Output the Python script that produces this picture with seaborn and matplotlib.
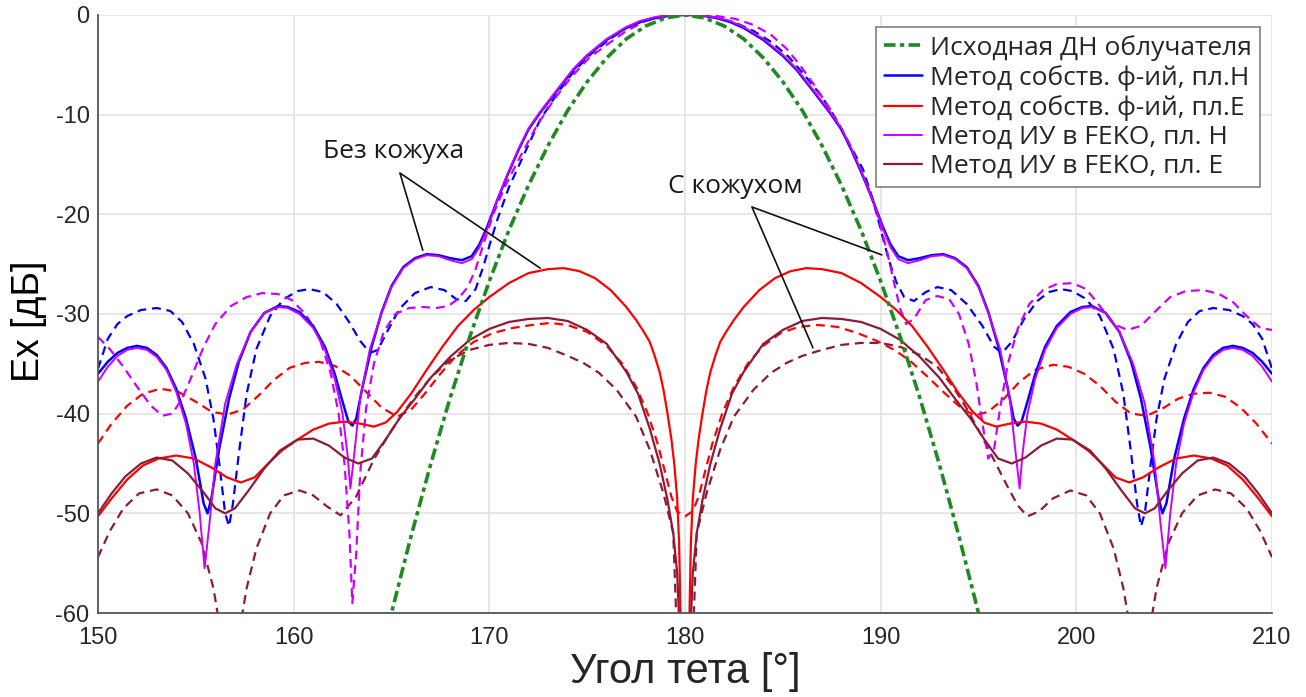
import matplotlib
matplotlib.use("Agg")
import matplotlib.pyplot as plt
import seaborn as sns

# ---- data ----
# feed pattern (dash-dot green)
feed_x = [164, 165, 166, 167, 168, 169, 170, 171, 172, 173, 174, 175, 176, 177, 178, 179, 180,
          181, 182, 183, 184, 185, 186, 187, 188, 189, 190, 191, 192, 193, 194, 195, 196]
feed_y = [-69.0, -60.0, -52.3, -45.1, -38.4, -32.3, -26.7, -21.6, -17.1, -13.1, -9.6, -6.7, -4.3, -2.4, -1.1, -0.3, 0.0,
          -0.3, -1.1, -2.4, -4.3, -6.7, -9.6, -13.1, -17.1, -21.6, -26.7, -32.3, -38.4, -45.1, -52.3, -60.0, -69.0]

# eigenfunction method, H plane (solid blue)
eig_h_x = [150, 150.5, 151, 151.5, 152, 152.5, 153, 153.5, 154, 154.5, 155, 155.4, 155.6, 155.8, 156.2, 156.7,
           157.2, 157.8, 158.5, 159.2, 159.7, 160.3, 161, 161.6, 162.1, 162.5, 162.8, 163, 163.2, 163.5, 164,
           164.5, 165, 165.6, 166.2, 166.8, 167.4, 168, 168.6, 169.1, 169.5, 169.9, 170.4, 170.9, 171.5, 172,
           172.6, 173.5, 174.3, 175, 176, 177, 177.7, 178.5, 179.4, 180.6, 181.5, 182.3, 183, 184, 185, 185.7,
           186.5, 187.4, 188, 188.5, 189.1, 189.6, 190.1, 190.5, 190.9, 191.4, 192, 192.6, 193.2, 193.8, 194.4,
           195, 195.5, 196, 196.5, 196.8, 197, 197.2, 197.5, 197.9, 198.4, 199, 199.7, 200.3, 200.8, 201.5,
           202.2, 202.8, 203.3, 203.8, 204.2, 204.4, 204.6, 205, 205.5, 206, 206.5, 207, 207.5, 208, 208.5,
           209, 209.5, 210]
eig_h_y = [-36.0, -34.8, -33.9, -33.4, -33.2, -33.4, -34.1, -35.4, -37.5, -40.5, -44.5, -49.0, -50.0, -48.5,
           -43.5, -38.5, -34.8, -31.8, -29.9, -29.2, -29.3, -29.8, -31.2, -33.3, -36.0, -38.8, -40.8, -41.2,
           -40.5, -37.5, -33.2, -29.8, -27.2, -25.3, -24.4, -24.0, -24.1, -24.4, -24.6, -24.2, -23.0, -21.2,
           -18.6, -16.2, -13.5, -11.5, -9.8, -7.5, -5.5, -4.1, -2.5, -1.3, -0.7, -0.25, 0.0, 0.0, -0.25, -0.7,
           -1.3, -2.5, -4.1, -5.5, -7.5, -9.8, -11.5, -13.5, -16.2, -18.6, -21.2, -23.0, -24.2, -24.6, -24.4,
           -24.1, -24.0, -24.4, -25.3, -27.2, -29.8, -33.2, -37.5, -40.5, -41.2, -40.8, -38.8, -36.0, -33.3,
           -31.2, -29.8, -29.3, -29.2, -29.9, -31.8, -34.8, -38.5, -43.5, -48.5, -50.0, -49.0, -44.5, -40.5,
           -37.5, -35.4, -34.1, -33.4, -33.2, -33.4, -33.9, -34.8, -36.0]

# eigenfunction method, E plane (solid red)
eig_e_x = [150, 150.7, 151.5, 152.3, 153.1, 154, 154.9, 155.8, 156.6, 157.3, 158, 158.7, 159.4, 160.2, 161,
           161.8, 162.6, 163.4, 164.1, 164.7, 165.3, 166, 166.8, 167.6, 168.4, 169.2, 170, 171, 172, 173,
           173.8, 174.6, 175.4, 176.2, 177, 177.5, 177.9, 178.2, 178.45, 178.7, 178.9, 179.1, 179.3, 179.45,
           179.6, 179.7, 179.8,
           180.2, 180.3, 180.4, 180.55, 180.7, 180.9, 181.1, 181.3, 181.55, 181.8, 182.1, 182.5, 183, 183.8,
           184.6, 185.4, 186.2, 187, 188,
           189, 190, 190.8, 191.6, 192.4, 193.2, 194, 194.7, 195.3, 195.9, 196.6, 197.4, 198.2, 199, 199.8,
           200.6, 201.3, 202, 202.7, 203.4, 204.2, 205.1, 206, 206.9, 207.7, 208.5, 209.3, 210]
eig_e_y = [-50.3, -48.5, -46.6, -45.2, -44.5, -44.2, -44.5, -45.4, -46.4, -46.9, -46.4, -45.0, -43.7, -42.6,
           -41.6, -41.0, -40.8, -41.0, -41.3, -40.9, -39.8, -38.0, -35.6, -33.3, -31.2, -29.6, -28.3, -26.9,
           -25.9, -25.5, -25.4, -25.7, -26.4, -27.6, -29.3, -30.6, -31.8, -32.8, -34.2, -35.8, -37.6, -39.9,
           -42.5, -45.0, -48.5, -53.0, -63.0,
           -63.0, -53.0, -48.5, -45.0, -42.5, -39.9, -37.6, -35.8, -34.2, -32.8, -31.8, -30.6, -29.3, -27.6,
           -26.4, -25.7, -25.4, -25.5, -25.9,
           -26.9, -28.3, -29.6, -31.2, -33.3, -35.6, -38.0, -39.8, -40.9, -41.3, -41.0, -40.8, -41.0, -41.6,
           -42.6, -43.7, -45.0, -46.4, -46.9, -46.4, -45.4, -44.5, -44.2, -44.5, -45.2, -46.6, -48.5, -50.3]

# FEKO integral equations, H plane (solid magenta)
feko_h_x = [150, 150.5, 151, 151.5, 152, 152.5, 153, 153.5, 154, 154.5, 154.9, 155.2, 155.45, 155.7, 156,
            156.5, 157.1, 157.8, 158.5, 159.2, 159.7, 160.3, 161, 161.6, 162.1, 162.5, 162.75, 162.9, 163.1,
            163.4, 163.9, 164.5, 165, 165.6, 166.2, 166.8, 167.4, 168, 168.6, 169.1, 169.5, 169.9, 170.4,
            170.9, 171.5, 172, 172.6, 173.5, 174.3, 175, 176, 177, 177.7, 178.5, 179.4, 180.6, 181.5, 182.3,
            183, 184, 185, 185.7, 186.5, 187.4, 188, 188.5, 189.1, 189.6, 190.1, 190.5, 190.9, 191.4, 192,
            192.6, 193.2, 193.8, 194.4, 195, 195.5, 196.1, 196.6, 196.9, 197.1, 197.25, 197.5, 197.9, 198.4,
            199, 199.7, 200.3, 200.8, 201.5, 202.2, 202.9, 203.5, 204, 204.3, 204.55, 204.8, 205.1, 205.5,
            206, 206.5, 207, 207.5, 208, 208.5, 209, 209.5, 210]
feko_h_y = [-36.8, -35.3, -34.2, -33.6, -33.4, -33.6, -34.3, -35.6, -37.8, -41.0, -45.0, -50.0, -55.5, -51.0,
            -45.0, -39.0, -35.0, -31.8, -29.9, -29.3, -29.4, -30.0, -31.4, -33.6, -36.5, -40.0, -44.0, -47.5,
            -44.0, -38.5, -33.5, -29.9, -27.3, -25.4, -24.5, -24.1, -24.2, -24.6, -24.9, -24.5, -23.3, -21.4,
            -18.6, -16.1, -13.4, -11.4, -9.7, -7.4, -5.4, -4.0, -2.4, -1.2, -0.6, -0.2, 0.0, 0.0, -0.2, -0.6,
            -1.2, -2.4, -4.0, -5.4, -7.4, -9.7, -11.4, -13.4, -16.1, -18.6, -21.4, -23.3, -24.5, -24.9, -24.6,
            -24.2, -24.1, -24.5, -25.4, -27.3, -29.9, -33.5, -38.5, -44.0, -47.5, -44.0, -40.0, -36.5, -33.6,
            -31.4, -30.0, -29.4, -29.3, -29.9, -31.8, -35.0, -39.0, -45.0, -51.0, -55.5, -50.0, -45.0, -41.0,
            -37.8, -35.6, -34.3, -33.6, -33.4, -33.6, -34.2, -35.3, -36.8]

# FEKO integral equations, E plane (solid dark red)
feko_e_x = [150, 150.7, 151.4, 152.2, 153, 153.8, 154.6, 155.4, 156, 156.5, 157, 157.7, 158.5, 159.3, 160.2,
            161, 161.8, 162.6, 163.3, 164, 164.7, 165.4, 166.2, 167, 168, 169, 170, 171, 172, 173, 174, 175,
            176, 177, 177.6, 178.2, 178.7, 179.1, 179.4, 179.6, 179.75, 180.25, 180.4, 180.6, 180.9, 181.3,
            181.8, 182.4, 183, 184, 185, 186, 187, 188, 189, 190, 191, 192, 193, 193.8, 194.6, 195.3, 196,
            196.7, 197.4, 198.2, 199, 199.8, 200.7, 201.5, 202.3, 203, 203.5, 204, 204.6, 205.4, 206.2, 207,
            207.8, 208.6, 209.3, 210]
feko_e_y = [-50.0, -48.0, -46.3, -45.0, -44.4, -44.7, -46.0, -47.9, -49.5, -50.0, -49.5, -47.7, -45.5, -43.7,
            -42.6, -42.5, -43.2, -44.4, -45.0, -44.5, -42.6, -40.5, -38.5, -36.4, -34.3, -32.6, -31.5, -30.8,
            -30.5, -30.4, -30.7, -31.6, -33.0, -35.8, -38.0, -41.5, -45.0, -48.6, -52.0, -56.0, -63.0, -63.0,
            -56.0, -52.0, -48.6, -45.0, -41.5, -38.0, -35.8, -33.0, -31.6, -30.7, -30.4, -30.5, -30.8, -31.5,
            -32.6, -34.3, -36.4, -38.5, -40.5, -42.6, -44.5, -45.0, -44.4, -43.2, -42.5, -42.6, -43.7, -45.5,
            -47.7, -49.5, -50.0, -49.5, -47.9, -46.0, -44.7, -44.4, -45.0, -46.3, -48.0, -50.0]

# dashed counterparts
eig_h2_x = [150, 150.5, 151, 151.5, 152.2, 153, 153.7, 154.3, 154.9, 155.5, 155.9, 156.2, 156.5, 156.7, 156.9,
            157.2, 157.6, 158.1, 158.8, 159.5, 160.2, 160.8, 161.5, 162.2, 162.8, 163.4, 163.9, 164.3, 164.8,
            165.4, 166.2, 167, 167.7, 168.3, 168.8, 169.3, 169.7, 170.1, 170.4, 171, 171.7, 172.6, 173.5,
            174.3, 175.2, 176.1, 177, 178, 179.4, 180.6, 181.7, 182.6, 183.5, 184.4, 185.3, 186.1, 187, 187.8,
            188.5, 189.1, 189.6, 190, 190.4, 190.8, 191.2, 191.7, 192.3, 192.9, 193.6, 194.4, 195.2, 195.8,
            196.2, 196.7, 197.3, 198, 198.6, 199.2, 199.8, 200.5, 201.2, 201.9, 202.4, 202.8, 203.1, 203.3,
            203.5, 203.8, 204.1, 204.5, 205.1, 205.7, 206.3, 207, 207.8, 208.5, 209, 209.5, 210]
eig_h2_y = [-35.5, -32.5, -31.0, -30.2, -29.6, -29.4, -29.7, -30.8, -33.0, -36.5, -40.5, -45.0, -50.0, -51.3,
            -49.0, -44.0, -38.0, -33.5, -30.2, -28.5, -27.7, -27.5, -27.8, -29.0, -30.7, -32.7, -33.9, -33.6,
            -31.7, -29.5, -27.9, -27.3, -27.6, -28.5, -28.7, -27.5, -25.2, -22.5, -20.6, -17.3, -14.3, -10.5,
            -7.8, -5.7, -3.9, -2.5, -1.3, -0.5, 0.0, 0.0, -0.3, -0.8, -1.6, -2.7, -4.2, -6.0, -8.2, -10.7,
            -13.3, -15.5, -18.5, -21.5, -24.5, -26.8, -28.3, -28.7, -27.8, -27.3, -27.6, -29.0, -31.2, -33.3,
            -33.9, -32.8, -30.6, -28.7, -27.8, -27.5, -27.7, -28.5, -30.2, -33.5, -38.0, -44.0, -49.0, -51.3,
            -50.0, -45.0, -40.5, -36.5, -33.0, -30.8, -29.7, -29.4, -29.6, -30.2, -31.0, -32.5, -35.5]

feko_h2_x = [150, 150.6, 151.3, 152, 152.7, 153.3, 153.8, 154.3, 154.8, 155.4, 156, 156.8, 157.6, 158.4, 159.2,
             159.9, 160.6, 161.3, 161.9, 162.3, 162.6, 162.85, 163, 163.2, 163.4, 163.7, 164.1, 164.6, 165.2,
             165.9, 166.6, 167.3, 167.9, 168.4, 168.9, 169.3, 169.7, 170.2, 170.8, 171.5, 172.4, 173.3, 174.2,
             175.1, 176, 177, 178, 179.2, 180.5, 181.6, 182.6, 183.5, 184.4, 185.2, 185.9, 186.7, 187.5, 188.2,
             188.8, 189.4, 189.9, 190.3, 190.7, 191, 191.3, 191.7, 192.3, 192.9, 193.5, 194, 194.5, 194.9,
             195.2, 195.5, 195.8, 196.1, 196.5, 197, 197.6, 198.3, 199, 199.8, 200.5, 201.2, 201.9, 202.6,
             203.3, 204, 204.8, 205.6, 206.5, 207.3, 208, 208.7, 209.4, 210]
feko_h2_y = [-32.3, -33.5, -35.3, -37.3, -39.2, -40.2, -40.0, -38.5, -36.2, -33.3, -31.0, -29.2, -28.3, -27.9,
             -28.0, -28.6, -30.0, -32.3, -36.0, -40.0, -45.0, -52.0, -59.0, -54.0, -46.0, -39.5, -35.0, -31.8,
             -30.0, -29.4, -29.3, -29.4, -29.2, -28.5, -27.3, -25.5, -23.0, -20.0, -17.2, -14.5, -11.2, -8.5,
             -6.2, -4.3, -3.0, -1.6, -0.6, -0.1, 0.0, -0.1, -0.4, -1.0, -2.0, -3.4, -5.1, -7.3, -9.7, -12.3,
             -14.8, -17.5, -20.5, -23.5, -27.0, -29.5, -31.0, -30.5, -28.6, -28.2, -28.5, -30.0, -33.0, -37.0,
             -41.0, -44.5, -43.5, -39.5, -35.0, -31.5, -29.0, -27.6, -27.0, -26.9, -27.5, -29.2, -31.0, -31.6,
             -31.2, -29.8, -28.3, -27.7, -27.6, -28.0, -28.8, -30.2, -31.4, -31.6]

eig_e2_x = [150, 150.7, 151.5, 152.3, 153.2, 154.1, 155, 155.8, 156.6, 157.4, 158.2, 159, 159.8, 160.6, 161.3,
            162.1, 162.9, 163.7, 164.5, 165.3, 166, 166.7, 167.5, 168.3, 169.2, 170.2, 171.2, 172.2, 173.1,
            174, 175, 176, 176.8, 177.5, 178.1, 178.6, 179, 179.3, 179.6, 180, 180.4, 180.7, 181, 181.4,
            181.9, 182.5, 183.2, 184, 184.9, 185.8, 186.8, 187.8, 188.8, 189.8, 190.7, 191.5, 192.4, 193.3,
            194.1, 194.8, 195.5, 196.3, 197.1, 197.9, 198.8, 199.6, 200.4, 201.2, 202, 202.8, 203.6, 204.4,
            205.2, 206, 206.8, 207.6, 208.4, 209.2, 210]
eig_e2_y = [-43.0, -41.0, -39.2, -38.0, -37.5, -37.8, -38.8, -39.8, -40.1, -39.6, -38.2, -36.6, -35.4, -34.9,
            -34.8, -35.2, -36.2, -37.8, -39.4, -40.3, -39.6, -38.0, -36.0, -34.2, -32.8, -31.9, -31.4, -31.1,
            -30.9, -31.1, -31.8, -33.2, -35.0, -37.3, -40.0, -43.0, -46.0, -48.3, -49.8, -50.3, -49.8, -48.3,
            -46.0, -43.0, -40.0, -37.3, -35.0, -33.2, -31.9, -31.3, -31.1, -31.3, -31.9, -32.7, -33.6, -34.7,
            -36.3, -38.0, -39.4, -40.2, -39.8, -38.5, -36.8, -35.6, -35.1, -35.3, -36.0, -37.2, -38.8, -40.0,
            -40.2, -39.5, -38.5, -38.0, -37.9, -38.3, -39.4, -41.0, -43.0]

feko_e2_x = [150, 150.6, 151.3, 152.1, 153, 153.8, 154.6, 155.3, 155.9, 156.2, 156.7, 157.3, 157.6, 158.1,
             158.8, 159.5, 160.3, 161, 161.7, 162.4, 163.2, 164.1, 164.8, 165.5, 166.2, 167, 168, 169, 170,
             171, 172, 173, 174, 174.8, 175.6, 176.5, 177.5, 178.2, 178.9, 179.4, 179.6, 180.4, 180.6, 181.1,
             181.8, 182.5, 183.5, 184.4, 185.2, 186, 187, 188, 189, 190, 191, 192, 192.9, 193.7, 194.4, 195.1,
             195.7, 196.4, 197, 197.5, 198.1, 198.8, 199.7, 200.5, 201.2, 201.9, 202.4, 202.7, 203.3, 203.8,
             204.1, 204.7, 205.4, 206.2, 207.1, 207.9, 208.7, 209.4, 210]
feko_e2_y = [-54.4, -51.8, -49.5, -48.0, -47.6, -48.2, -50.0, -53.0, -57.5, -61.0, -68.0, -61.0, -57.5, -53.5,
             -50.0, -48.2, -47.7, -48.2, -49.3, -50.2, -48.3, -44.6, -42.3, -40.2, -38.3, -36.4, -34.6, -33.6,
             -33.1, -32.9, -33.0, -33.4, -34.2, -34.9, -35.9, -37.6, -40.3, -43.6, -48.0, -52.0, -63.0, -63.0,
             -52.0, -48.0, -43.6, -40.3, -37.6, -35.9, -34.9, -34.2, -33.6, -33.1, -32.9, -32.9, -33.3, -34.1,
             -35.3, -37.3, -39.5, -42.0, -44.3, -47.0, -49.2, -50.3, -49.8, -48.5, -47.7, -48.2, -50.0, -53.5,
             -57.5, -61.0, -68.0, -61.0, -57.5, -53.0, -50.0, -48.2, -47.6, -48.0, -49.5, -51.8, -54.4]

legend_labels = ["Исходная ДН облучателя", "Метод собств. ф-ий, пл.H", "Метод собств. ф-ий, пл.E",
                 "Метод ИУ в FEKO, пл. H", "Метод ИУ в FEKO, пл. E"]

c_green = "#1f8a1f"
c_blue = "#0000ff"
c_red = "#ff0000"
c_mag = "#cc00ff"
c_brown = "#8e1b35"

sns.set_theme(style="white")
plt.rcParams["font.family"] = ["Liberation Sans", "DejaVu Sans"]
plt.rcParams["axes.unicode_minus"] = False

fig = plt.figure(figsize=(13.06, 6.97), dpi=100)
ax = fig.add_axes([0.075, 0.1205, 0.899, 0.858])

dash = (4, 2.6)

# dashed curves first (under the solid ones)
sns.lineplot(x=eig_e2_x, y=eig_e2_y, color=c_red, lw=1.6, ax=ax, sort=False,
             estimator=None).lines[-1].set_dashes(dash)
sns.lineplot(x=feko_e2_x, y=feko_e2_y, color=c_brown, lw=1.6, ax=ax, sort=False,
             estimator=None).lines[-1].set_dashes(dash)
sns.lineplot(x=eig_h2_x, y=eig_h2_y, color=c_blue, lw=1.6, ax=ax, sort=False,
             estimator=None).lines[-1].set_dashes(dash)
sns.lineplot(x=feko_h2_x, y=feko_h2_y, color=c_mag, lw=1.6, ax=ax, sort=False,
             estimator=None).lines[-1].set_dashes(dash)

# solid curves
sns.lineplot(x=eig_h_x, y=eig_h_y, color=c_blue, lw=1.8, ax=ax, sort=False, estimator=None,
             label=legend_labels[1])
sns.lineplot(x=eig_e_x, y=eig_e_y, color=c_red, lw=1.6, ax=ax, sort=False, estimator=None,
             label=legend_labels[2])
sns.lineplot(x=feko_h_x, y=feko_h_y, color=c_mag, lw=1.4, ax=ax, sort=False, estimator=None,
             label=legend_labels[3])
sns.lineplot(x=feko_e_x, y=feko_e_y, color=c_brown, lw=1.6, ax=ax, sort=False, estimator=None,
             label=legend_labels[4])

# feed pattern
sns.lineplot(x=feed_x, y=feed_y, color=c_green, lw=2.6, ax=ax, sort=False, estimator=None,
             label=legend_labels[0])
ax.lines[-1].set_dashes((3.2, 1.2, 1.2, 1.2))
ax.lines[-1].set_zorder(3)

ax.set_xlim(150, 210)
ax.set_ylim(-60, 0)
ax.set_xticks(range(150, 211, 10))
ax.set_yticks(range(-60, 1, 10))
ax.grid(True, color="#e3e3e3", lw=1.2)
ax.set_axisbelow(True)
for s in ["top", "right"]:
    ax.spines[s].set_visible(False)
for s in ["left", "bottom"]:
    ax.spines[s].set_color("#555555")
    ax.spines[s].set_linewidth(1.3)
ax.tick_params(direction="in", length=10, width=1.2, color="#555555", labelsize=17,
               labelcolor="#262626")
ax.tick_params(axis="y", pad=6)
ax.tick_params(axis="x", pad=10)

ax.set_xlabel("Угол тета [°]", fontsize=30, color="#262626", labelpad=2)
ax.set_ylabel("Ex [дБ]", fontsize=27, color="black", va="center")
ax.yaxis.set_label_coords(-0.059, 0.487)

# legend
h, l = ax.get_legend_handles_labels()
order = [l.index(t) for t in legend_labels]
leg = ax.legend([h[i] for i in order], [l[i] for i in order], loc="upper right",
                prop={"family": "Open Sans", "size": 19}, frameon=True, fancybox=False,
                edgecolor="#808080", framealpha=1, labelspacing=0.16, handlelength=1.45,
                handletextpad=0.3, borderpad=0.3, borderaxespad=0.45)
leg.get_frame().set_linewidth(1.2)

# annotations
ann_font = {"family": "Open Sans", "size": 19}
ax.text(165.1, -14.3, "Без кожуха", ha="center", va="baseline", fontdict=ann_font, color="#1a1a1a")
ax.plot([166.6, 165.43, 172.6], [-23.6, -15.85, -25.4], color="#111111", lw=1.2, zorder=5)
ax.text(182.55, -17.85, "С кожухом", ha="center", va="baseline", fontdict=ann_font, color="#1a1a1a")
ax.plot([190.06, 183.42, 186.54], [-24.07, -19.26, -33.4], color="#111111", lw=1.2, zorder=5)

fig.savefig("out.png", dpi=100)
